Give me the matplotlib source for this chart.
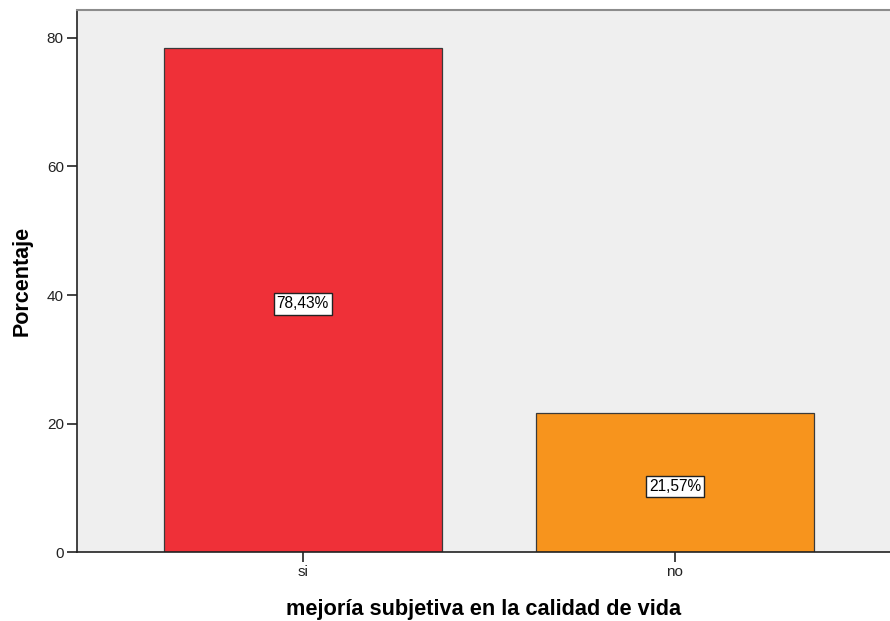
import matplotlib.pyplot as plt

categories = ['si', 'no']
percentages = [78.43, 21.57]
bar_labels = ['78,43%', '21,57%']
colors = ['#EF3038', '#F7941D']

plt.rcParams['font.family'] = ['Liberation Sans', 'DejaVu Sans']

fig = plt.figure(figsize=(8.9, 6.21), dpi=100)
ax = fig.add_axes([0.0865, 0.111, 0.9135, 0.873])
ax.set_facecolor('#EFEFEF')

x = range(len(categories))
ax.bar(x, percentages, width=0.748, color=colors, edgecolor='#3a3a3a', linewidth=0.9, zorder=2)

for xi, val, lab in zip(x, percentages, bar_labels):
    ax.text(xi, val / 2 - 0.6, lab, ha='center', va='center', fontsize=11.2, zorder=3,
            bbox=dict(boxstyle='square,pad=0.2', facecolor='white', edgecolor='#222222', linewidth=1.0))

ax.set_xlim(-0.607, 1.578)
ax.set_ylim(0, 84.36)
ax.set_xticks(list(x))
ax.set_xticklabels(categories)
ax.set_yticks([0, 20, 40, 60, 80])
ax.tick_params(axis='both', labelsize=11, length=7.5, width=1.2, pad=2,
               color='#222222', labelcolor='#222222')

ax.spines['top'].set_color('#8c8c8c')
ax.spines['top'].set_linewidth(1.5)
ax.spines['right'].set_visible(False)
ax.spines['left'].set_color('#222222')
ax.spines['left'].set_linewidth(1.2)
ax.spines['bottom'].set_color('#222222')
ax.spines['bottom'].set_linewidth(1.2)

ax.set_ylabel('Porcentaje', fontsize=15.5, fontweight='bold', labelpad=10)
ax.set_xlabel('mejoría subjetiva en la calidad de vida', fontsize=15.7, fontweight='bold', labelpad=14)

fig.savefig('out.png', dpi=100, facecolor='white')
